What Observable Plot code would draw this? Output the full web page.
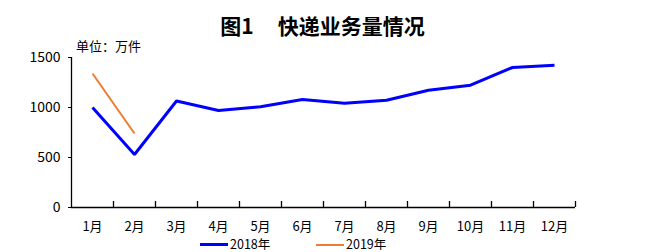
<!DOCTYPE html>
<html>
<head>
<meta charset="utf-8">
<script src="https://cdn.jsdelivr.net/npm/d3@7"></script>
<script src="https://cdn.jsdelivr.net/npm/@observablehq/plot@0.6"></script>
<style>
  html, body { margin: 0; padding: 0; background: #fff; }
  #wrap { position: relative; width: 645px; height: 252px; overflow: hidden; font-family: "Noto Sans CJK SC", sans-serif; }
  #wrap svg { position: absolute; left: 0; top: 0; }
  .title { position: absolute; top: 11px; left: 0; width: 645px; text-align: center; font-size: 21px; font-weight: bold; line-height: 28px; color: #000; padding-left: 0; }
  .title span.gap { display: inline-block; width: 24px; }
  .unit { position: absolute; left: 76px; top: 37px; font-size: 13px; line-height: 18px; color: #000; }
  .legend { position: absolute; top: 237px; left: 0; font-size: 12.5px; line-height: 13px; color: #000; }
  .legend .item { position: absolute; white-space: nowrap; }
  .legend .swatch { display: inline-block; width: 28px; vertical-align: middle; margin-right: 2px; position: relative; top: -1px; }
</style>
</head>
<body>
<div id="wrap">
  <div class="title">图1<span class="gap"></span>快递业务量情况</div>
  <div class="unit">单位：万件</div>
  <div class="legend" id="legend"></div>
</div>
<script>
const months = ["1月","2月","3月","4月","5月","6月","7月","8月","9月","10月","11月","12月"];
const values2018 = [1000, 530, 1065, 970, 1008, 1080, 1043, 1073, 1173, 1223, 1400, 1423];
const values2019 = [1340, 740];
const seriesNames = ["2018年", "2019年"];
const seriesColors = ["#0000FF", "#ED7D31"];
const yTicks = [0, 500, 1000, 1500];

const data2018 = values2018.map((v, i) => ({m: i + 1, v}));
const data2019 = values2019.map((v, i) => ({m: i + 1, v}));
const monthIdx = months.map((_, i) => i + 1);
const boundaries = months.map((_, i) => i + 1.5);

const chart = Plot.plot({
  width: 645,
  height: 252,
  marginLeft: 71,
  marginRight: 70,
  marginTop: 57,
  marginBottom: 45,
  style: {fontFamily: "'Noto Sans CJK SC', sans-serif", fontSize: "13px", color: "#000", background: "transparent"},
  x: {type: "linear", domain: [0.5, 12.5]},
  y: {domain: [0, 1500]},
  marks: [
    Plot.axisY({ticks: yTicks, tickSize: 3, tickPadding: 8, tickFormat: d => String(d), label: null, fontSize: 14, stroke: "#000"}),
    Plot.axisX({ticks: monthIdx, tickSize: 0, tickPadding: 14, tickFormat: d => months[d - 1], label: null, fontSize: 13}),
    Plot.ruleX([0.5], {stroke: "#000", strokeWidth: 1.3}),
    Plot.ruleY([0], {stroke: "#000", strokeWidth: 1.3}),
    Plot.tickX(boundaries, {x: d => d, insetTop: 144, stroke: "#000", strokeWidth: 1.3}),
    Plot.line(data2018, {x: "m", y: "v", stroke: seriesColors[0], strokeWidth: 3, strokeLinejoin: "miter", strokeLinecap: "butt"}),
    Plot.line(data2019, {x: "m", y: "v", stroke: seriesColors[1], strokeWidth: 2, strokeLinecap: "butt"})
  ]
});
document.getElementById("wrap").prepend(chart);

const legend = document.getElementById("legend");
const legendX = [200, 316];
const legendW = [3, 2];
seriesNames.forEach((name, i) => {
  const item = document.createElement("div");
  item.className = "item";
  item.style.left = legendX[i] + "px";
  const sw = document.createElement("span");
  sw.className = "swatch";
  sw.style.height = legendW[i] + "px";
  sw.style.background = seriesColors[i];
  item.appendChild(sw);
  item.appendChild(document.createTextNode(name));
  legend.appendChild(item);
});
</script>
</body>
</html>
